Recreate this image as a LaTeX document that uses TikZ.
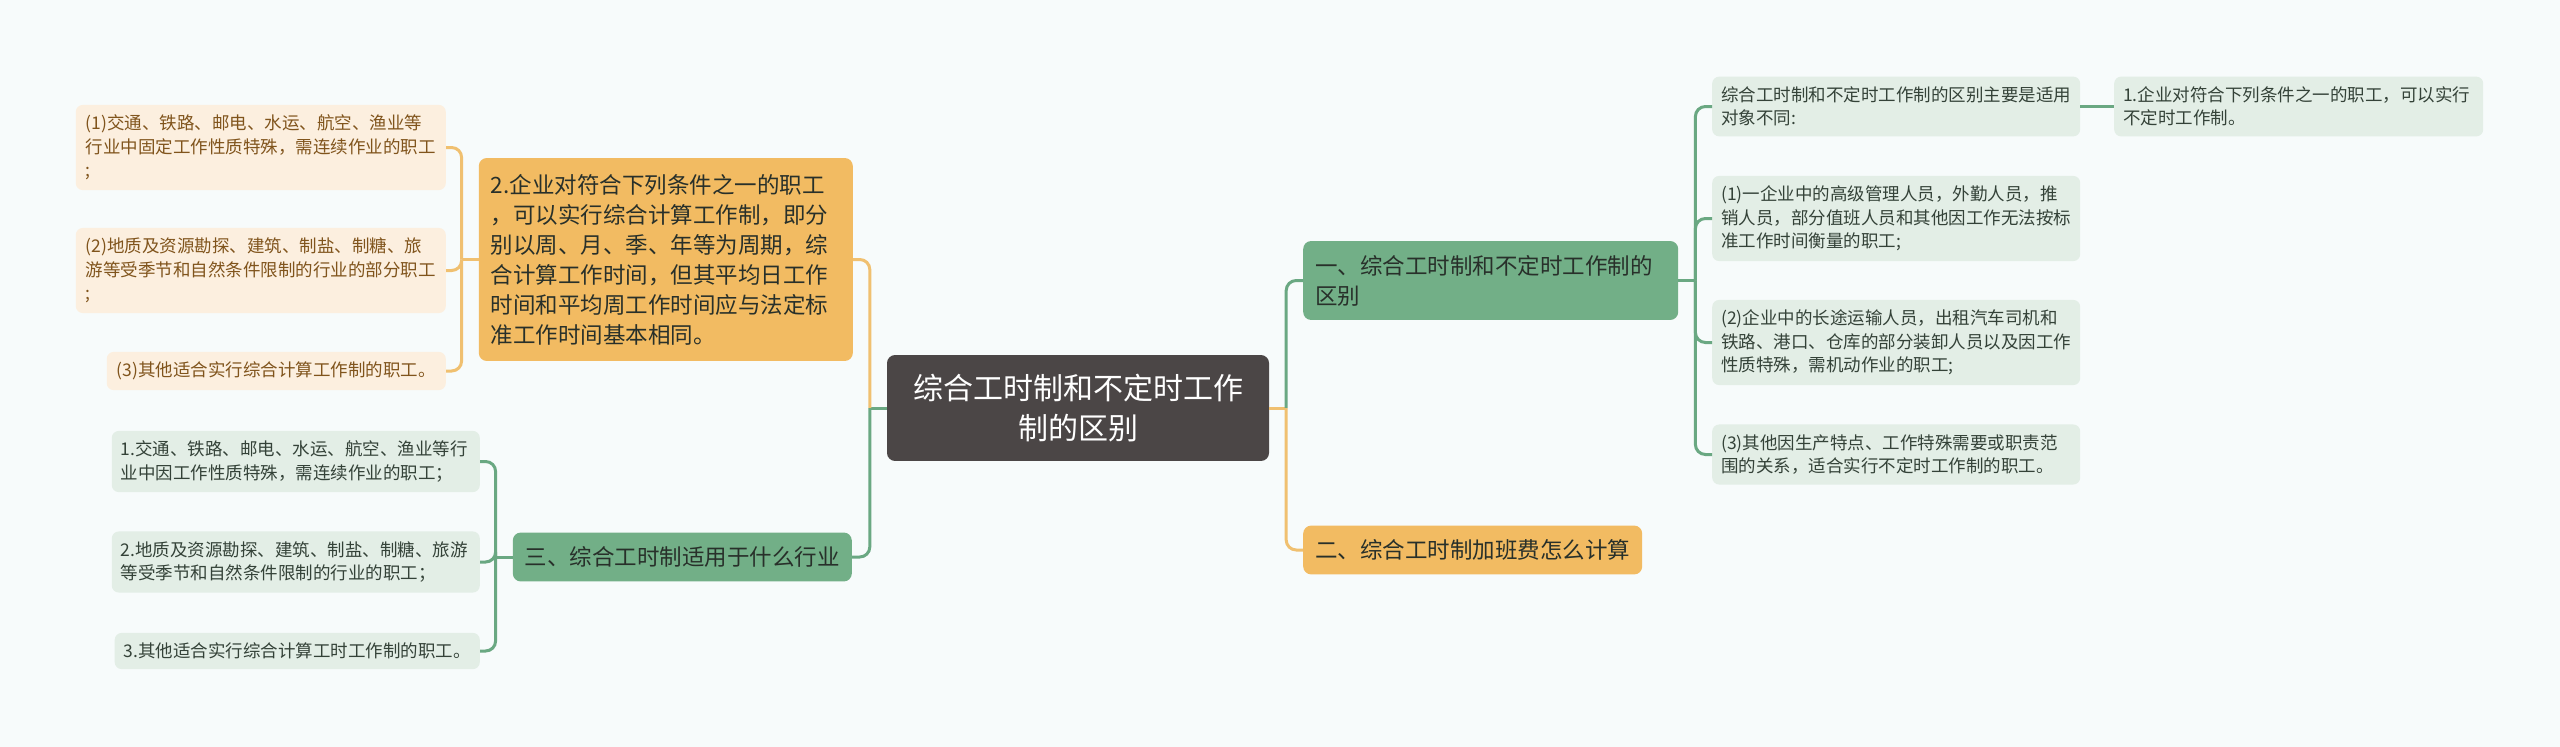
\documentclass[tikz,border=0pt]{standalone}
\usepackage{fontspec}
\setmainfont{Noto Sans CJK SC}
\usepackage{xcolor}
\usepackage{tikz}
\usetikzlibrary{
  positioning
}
\definecolor{PageBg}{RGB}{247, 251, 251}
\definecolor{RootGray}{RGB}{75, 70, 70}
\definecolor{MainGreen}{RGB}{114, 175, 135}
\definecolor{MainOrange}{RGB}{242, 187, 98}
\definecolor{LeafGreen}{RGB}{227, 238, 230}
\definecolor{LeafOrange}{RGB}{252, 239, 223}
\definecolor{LineGreen}{RGB}{106, 168, 130}
\definecolor{LineOrange}{RGB}{240, 192, 112}
\definecolor{InkDark}{RGB}{40, 48, 42}
\definecolor{InkGreen}{RGB}{52, 66, 56}
\definecolor{InkBrown}{RGB}{128, 84, 28}
\tikzset{
    rootbox/.style={fill=RootGray, rounded corners=8pt, text=white, font=\fontsize{30}{40}\selectfont,
        text width=330pt, align=center, inner xsep=26pt, inner ysep=19pt},
    mainbox/.style={rounded corners=8pt, text=InkDark, font=\fontsize{22.5}{30}\selectfont,
        align=left, inner xsep=12pt, inner ysep=14pt},
    leafbox/.style={rounded corners=7pt, font=\fontsize{17.5}{23.5}\selectfont,
        align=left, inner xsep=9pt, inner ysep=10pt},
    greenleaf/.style={leafbox, fill=LeafGreen, text=InkGreen},
    orangeleaf/.style={leafbox, fill=LeafOrange, text=InkBrown},
    greenline/.style={draw=LineGreen, line width=3pt, rounded corners=10pt},
    orangeline/.style={draw=LineOrange, line width=3pt, rounded corners=10pt}
}
\begin{document}
\begin{tikzpicture}[x=1pt, y=-1pt]
    \useasboundingbox[fill=PageBg] (0,0) rectangle (2560,747);
    % centre
    \node[rootbox] (root) at (1078,408) {综合工时制和不定时工作\\制的区别};
    % right side
    \node[mainbox, fill=MainGreen, text width=351pt, anchor=west] (diff) at (1303,280.5)
        {一、综合工时制和不定时工作制的\\区别};
    \node[mainbox, fill=MainOrange, anchor=west] (overtime) at (1303,550)
        {二、综合工时制加班费怎么计算};
    \node[greenleaf, text width=350pt, anchor=west] (diffa) at (1712,106.5)
        {综合工时制和不定时工作制的区别主要是适用\\对象不同:};
    \node[greenleaf, text width=350pt, anchor=west] (diffb) at (1712,218.5)
        {(1)一企业中的高级管理人员，外勤人员，推\\销人员，部分值班人员和其他因工作无法按标\\准工作时间衡量的职工;};
    \node[greenleaf, text width=350pt, anchor=west] (diffc) at (1712,342.5)
        {(2)企业中的长途运输人员，出租汽车司机和\\铁路、港口、仓库的部分装卸人员以及因工作\\性质特殊，需机动作业的职工;};
    \node[greenleaf, text width=350pt, anchor=west] (diffd) at (1712,454.5)
        {(3)其他因生产特点、工作特殊需要或职责范\\围的关系，适合实行不定时工作制的职工。};
    \node[greenleaf, text width=351pt, anchor=west] (diffa1) at (2114,106.5)
        {1.企业对符合下列条件之一的职工，可以实行\\不定时工作制。};
    % left side
    \node[mainbox, fill=MainOrange, text width=350pt, anchor=east, inner ysep=16pt] (calc) at (853,259.5)
        {2.企业对符合下列条件之一的职工\\，可以实行综合计算工作制，即分\\别以周、月、季、年等为周期，综\\合计算工作时间，但其平均日工作\\时间和平均周工作时间应与法定标\\准工作时间基本相同。};
    \node[mainbox, fill=MainGreen, anchor=east] (trade) at (852,557)
        {三、综合工时制适用于什么行业};
    \node[orangeleaf, text width=350pt, inner xsep=10pt, anchor=east] (calca) at (446,147.5)
        {(1)交通、铁路、邮电、水运、航空、渔业等\\行业中固定工作性质特殊，需连续作业的职工\\;};
    \node[orangeleaf, text width=350pt, inner xsep=10pt, anchor=east] (calcb) at (446,270.5)
        {(2)地质及资源勘探、建筑、制盐、制糖、旅\\游等受季节和自然条件限制的行业的部分职工\\;};
    \node[orangeleaf, inner xsep=10pt, anchor=east] (calcc) at (446,371)
        {(3)其他适合实行综合计算工作制的职工。};
    \node[greenleaf, text width=350pt, anchor=east] (tradea) at (480,461.5)
        {1.交通、铁路、邮电、水运、航空、渔业等行\\业中因工作性质特殊，需连续作业的职工；};
    \node[greenleaf, text width=350pt, anchor=east] (tradeb) at (480,562)
        {2.地质及资源勘探、建筑、制盐、制糖、旅游\\等受季节和自然条件限制的行业的职工；};
    \node[greenleaf, anchor=east] (tradec) at (480,651)
        {3.其他适合实行综合计算工时工作制的职工。};
    % connectors
    \coordinate[right=17pt of root.east] (jroot-r);
    \coordinate[left=17pt of root.west] (jroot-l);
    \coordinate[right=17pt of diff.east] (jdiff);
    \coordinate[left=17pt of calc.west] (jcalc);
    \coordinate[left=17pt of trade.west] (jtrade);
    \draw[orangeline] (root.east) -- (jroot-r);
    \draw[greenline] (jroot-r) |- (diff.west);
    \draw[orangeline] (jroot-r) |- (overtime.west);
    \draw[greenline] (root.west) -- (jroot-l);
    \draw[orangeline] (jroot-l) |- (calc.east);
    \draw[greenline] (jroot-l) |- (trade.east);
    \draw[greenline] (diff.east) -- (jdiff);
    \foreach \leaf in {diffa,diffb,diffc,diffd}
        \draw[greenline] (jdiff) |- (\leaf.west);
    \draw[greenline] (diffa.east) -- (diffa1.west);
    \draw[orangeline] (calc.west) -- (jcalc);
    \foreach \leaf in {calca,calcb,calcc}
        \draw[orangeline] (jcalc) |- (\leaf.east);
    \draw[greenline] (trade.west) -- (jtrade);
    \foreach \leaf in {tradea,tradeb,tradec}
        \draw[greenline] (jtrade) |- (\leaf.east);
\end{tikzpicture}
\end{document}
